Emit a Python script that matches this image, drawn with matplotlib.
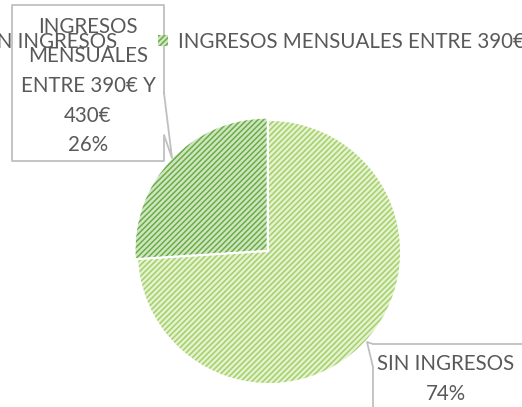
import matplotlib.pyplot as plt
from matplotlib.patches import Patch
from matplotlib.lines import Line2D

plt.rcParams['font.family'] = ['Lato', 'DejaVu Sans']
plt.rcParams['hatch.linewidth'] = 1.1

categories = ['SIN INGRESOS', 'INGRESOS MENSUALES ENTRE 390€ Y 430€']
values = [74, 26]
label_text = ['SIN INGRESOS\n74%', 'INGRESOS\nMENSUALES\nENTRE 390€ Y\n430€\n26%']
face = ['#e4f1d2', '#cfe6c0']
stripe = ['#a3d163', '#6aad47']
grey_txt = '#595959'
grey_line = '#bfbfbf'

W, H = 522, 407
fig = plt.figure(figsize=(W / 100, H / 100), dpi=100)


def fx(x):
    return x / W


def fy(y):
    return 1 - y / H


# pie: centre ~ (269, 252) px, radius ~131 px
cx, cy, r = 269, 252, 131
half = 1.1 * r
ax = fig.add_axes([fx(cx - half), fy(cy + half), 2 * half / W, 2 * half / H])
wedges, _ = ax.pie(values, startangle=90, counterclock=False,
                   colors=face, explode=[0, 0.025],
                   wedgeprops=dict(linewidth=0))
for w, c in zip(wedges, stripe):
    w.set_hatch('//////')
    w.set_edgecolor(c)
    w.set_linewidth(0)
ax.set_xlim(-1.1, 1.1)
ax.set_ylim(-1.1, 1.1)
ax.axis('off')

# legend (wider than the figure, clipped at both sides)
handles = [Patch(facecolor=f, edgecolor=s, hatch='//////', linewidth=0)
           for f, s in zip(face, stripe)]
fig.legend(handles, categories, loc='center', bbox_to_anchor=(fx(278), fy(42)),
           ncol=2, frameon=False, fontsize=14.8, labelcolor=grey_txt,
           handlelength=0.45, handleheight=0.45, handletextpad=0.5,
           columnspacing=2.0)


def line(xs, ys):
    fig.add_artist(Line2D([fx(v) for v in xs], [fy(v) for v in ys],
                          color=grey_line, lw=1.3, transform=fig.transFigure))


# top-left callout, pointer at lower right
line([164, 164, 12, 12, 164, 164, 172, 164], [93, 5, 5, 161, 161, 135, 158, 93])
fig.text(fx(88), fy(86), label_text[1], ha='center', va='center',
         fontsize=14.8, color=grey_txt, linespacing=1.6)

# bottom-right callout, pointer at upper left
line([373, 373, 367, 373, 530], [410, 367, 342, 344, 344])
fig.text(fx(446), fy(379), label_text[0], ha='center', va='center',
         fontsize=14.8, color=grey_txt, linespacing=1.6)

fig.savefig('out.png', dpi=100)
